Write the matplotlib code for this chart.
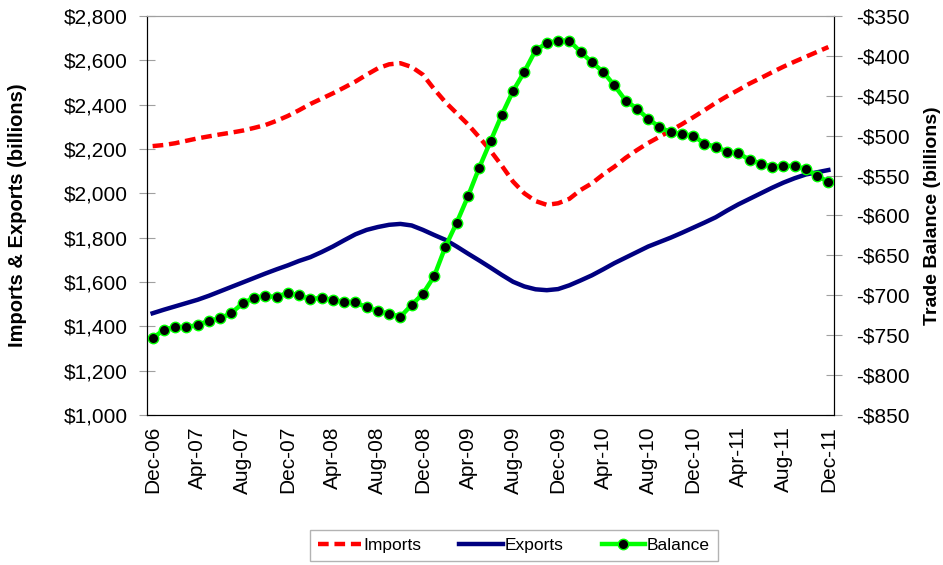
import matplotlib
matplotlib.use("Agg")
import matplotlib.pyplot as plt
import numpy as np

plt.rcParams['font.family'] = ['Liberation Sans', 'DejaVu Sans']

# monthly data, Dec-06 .. Dec-11 (billions of dollars)
months = ['Dec-06', 'Jan-07', 'Feb-07', 'Mar-07', 'Apr-07', 'May-07', 'Jun-07', 'Jul-07', 'Aug-07', 'Sep-07',
          'Oct-07', 'Nov-07', 'Dec-07', 'Jan-08', 'Feb-08', 'Mar-08', 'Apr-08', 'May-08', 'Jun-08', 'Jul-08',
          'Aug-08', 'Sep-08', 'Oct-08', 'Nov-08', 'Dec-08', 'Jan-09', 'Feb-09', 'Mar-09', 'Apr-09', 'May-09',
          'Jun-09', 'Jul-09', 'Aug-09', 'Sep-09', 'Oct-09', 'Nov-09', 'Dec-09', 'Jan-10', 'Feb-10', 'Mar-10',
          'Apr-10', 'May-10', 'Jun-10', 'Jul-10', 'Aug-10', 'Sep-10', 'Oct-10', 'Nov-10', 'Dec-10', 'Jan-11',
          'Feb-11', 'Mar-11', 'Apr-11', 'May-11', 'Jun-11', 'Jul-11', 'Aug-11', 'Sep-11', 'Oct-11', 'Nov-11',
          'Dec-11']

imports = [2213, 2218, 2226, 2237, 2248, 2257, 2266, 2274, 2283, 2295,
           2308, 2327, 2349, 2375, 2403, 2427, 2451, 2477, 2504, 2535,
           2564, 2582, 2587, 2570, 2535, 2470, 2411, 2361, 2311, 2253,
           2192, 2125, 2053, 2000, 1965, 1948, 1955, 1975, 2015, 2045,
           2085, 2120, 2160, 2195, 2227, 2255, 2283, 2312, 2343, 2375,
           2408, 2438, 2466, 2495, 2520, 2546, 2571, 2594, 2616, 2638,
           2660]

exports = [1459, 1475, 1490, 1505, 1520, 1538, 1558, 1578, 1598, 1618,
           1638, 1657, 1675, 1695, 1712, 1735, 1760, 1788, 1815, 1835,
           1848, 1858, 1862, 1855, 1835, 1812, 1790, 1760, 1728, 1697,
           1665, 1632, 1601, 1580, 1567, 1563, 1568, 1585, 1607, 1630,
           1657, 1685, 1710, 1735, 1760, 1780, 1800, 1822, 1845, 1868,
           1892, 1922, 1950, 1975, 2000, 2025, 2048, 2068, 2085, 2095,
           2105]

balance = [-754, -743, -740, -740, -737, -732, -729, -722, -710, -703,
           -701, -702, -697, -700, -705, -703, -706, -708, -709, -715,
           -720, -723, -727, -712, -698, -676, -639, -609, -576, -540,
           -507, -474, -444, -420, -393, -384, -381, -381, -395, -408,
           -420, -437, -456, -466, -479, -489, -496, -498, -500, -510,
           -514, -520, -522, -530, -535, -539, -538, -538, -542, -550,
           -558]

x = np.arange(len(months))

fig = plt.figure(figsize=(9.43, 5.65), dpi=100)
ax = fig.add_axes([0.1559, 0.2655, 0.7285, 0.7062])
ax2 = ax.twinx()

l1, = ax.plot(x, imports, color='#FF0000', lw=3.2, dashes=(2.4, 1.3), label='Imports')
l2, = ax.plot(x, exports, color='#000080', lw=3.2, label='Exports')
l3, = ax2.plot(x, balance, color='#00FF00', lw=3.2, marker='o', markersize=7.5,
               markerfacecolor='black', markeredgecolor='#00FF00', markeredgewidth=1, label='Balance')

ax.set_xlim(-0.5, len(months) - 0.5)
ax.set_ylim(1000, 2800)
ax2.set_ylim(-850, -350)

ax.set_yticks(np.arange(1000, 2801, 200))
ax.set_yticklabels(['${:,}'.format(v) for v in range(1000, 2801, 200)])
ax2.set_yticks(np.arange(-850, -349, 50))
ax2.set_yticklabels(['-${}'.format(-v) for v in range(-850, -349, 50)])

ax.set_xticks(x[::4])
ax.set_xticklabels(months[::4], rotation=90)

ax.tick_params(axis='x', length=0, labelsize=15, pad=8)
ax.tick_params(axis='y', direction='inout', length=12, color='#A0A0A0', labelsize=15, pad=8)
ax2.tick_params(axis='y', direction='inout', length=12, color='#A0A0A0', labelsize=15, pad=10)

for a in (ax, ax2):
    a.spines['top'].set_color('#A0A0A0')
    a.spines['left'].set_color('black')
    a.spines['right'].set_color('black')
    a.spines['bottom'].set_color('black')

ax.set_ylabel('Imports & Exports (billions)', fontsize=14.5, fontweight='bold')
ax.yaxis.set_label_coords(-0.1747, 0.5)
ax2.set_ylabel('Trade Balance (billions)', fontsize=14, fontweight='bold', rotation=90)
ax2.yaxis.set_label_coords(1.131, 0.5)

leg = fig.legend(handles=[l1, l2, l3], loc='center', bbox_to_anchor=(0.545, 0.034), ncol=3,
                 fontsize=12.5, frameon=True, fancybox=False, edgecolor='#A0A0A0',
                 handlelength=2.5, columnspacing=2.2, handletextpad=0.1, borderpad=0.45)
leg.get_frame().set_linewidth(1)

plt.savefig('out.png', dpi=100)
